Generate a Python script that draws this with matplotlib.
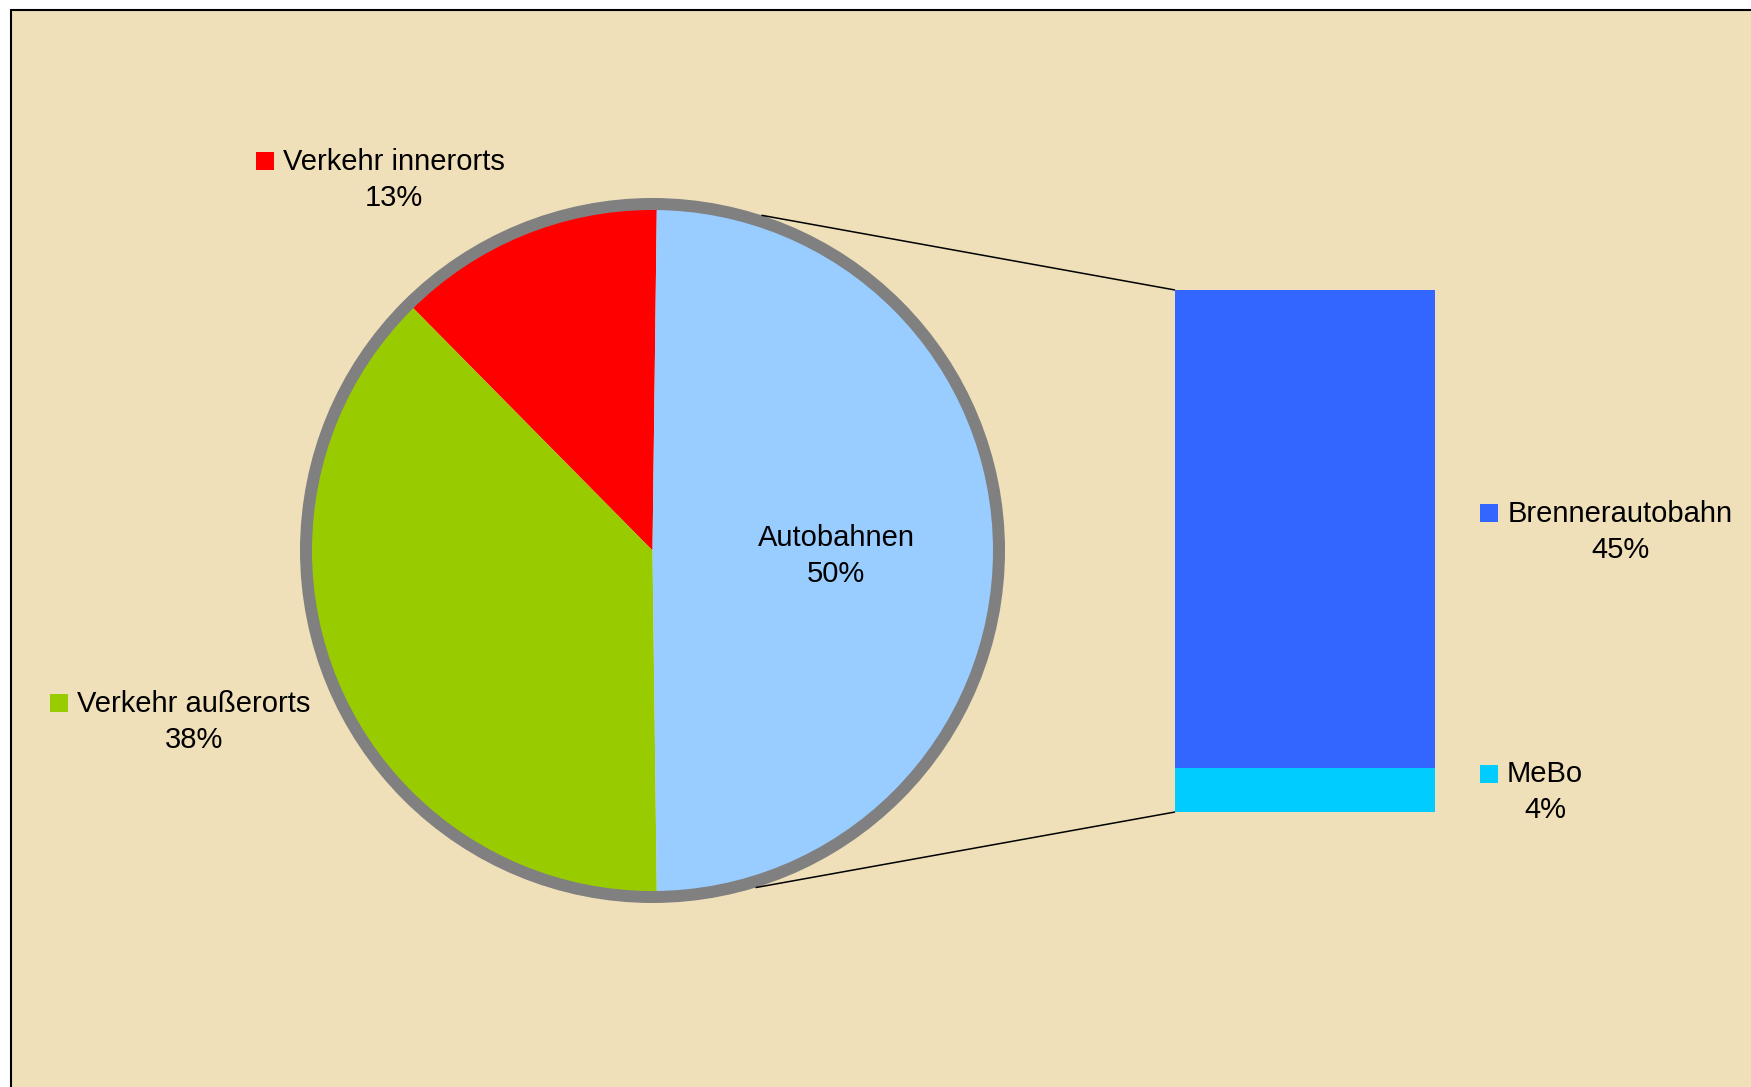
import numpy as np
import matplotlib
matplotlib.use("Agg")
import matplotlib.pyplot as plt
from matplotlib.patches import Rectangle, Circle

# ---- data ----
pie_labels = ["Verkehr innerorts", "Verkehr außerorts", "Autobahnen"]
pie_values = [12.6, 37.8]          # innerorts, außerorts (Autobahnen = sum of bar parts)
bar_labels = ["MeBo", "Brennerautobahn"]
bar_values = [4.2, 45.4]           # MeBo (bottom), Brennerautobahn (top)

pie_colors = ["#FF0000", "#99CC00", "#99CCFF"]
bar_colors = ["#00CCFF", "#3366FF"]

W, H = 1751, 1087
plt.rcParams['font.family'] = ['Liberation Sans', 'DejaVu Sans']
FS = 21

fig = plt.figure(figsize=(W / 100, H / 100), dpi=100)
fig.patch.set_facecolor("white")
ax = fig.add_axes([0, 0, 1, 1])

autobahn = sum(bar_values)
values = pie_values + [autobahn]
total = sum(values)
ab_span = 360.0 * autobahn / total

cx, cy = 652.5, H - 550.5
R = 346.5

# background panel with border on left/top
ax.add_patch(Rectangle((10.5, -20), W + 20, H - 9.5 + 20, facecolor="#EFE0BA",
                       edgecolor="black", linewidth=1.5, zorder=0))

wedges, _ = ax.pie(values, colors=pie_colors, startangle=ab_span / 2, counterclock=True,
                   center=(cx, cy), radius=R, frame=True,
                   wedgeprops=dict(linewidth=0, edgecolor="none"))
for w in wedges:
    w.set_zorder(2)
ax.add_patch(Circle((cx, cy), R, facecolor="none", edgecolor="#808080",
                    linewidth=12 * 0.72, zorder=3))

ax.set_xlim(0, W)
ax.set_ylim(0, H)
ax.set_aspect("auto")
ax.axis("off")

# bar of pie
bl, bt, bb, bw = 1175, 290, 812, 260
bax = fig.add_axes([bl / W, (H - bb) / H, bw / W, (bb - bt) / H])
bottom = 0
for v, c in zip(bar_values, bar_colors):
    bax.bar(0, v, bottom=bottom, width=1.0, color=c, linewidth=0)
    bottom += v
bax.set_xlim(-0.5, 0.5)
bax.set_ylim(0, autobahn)
bax.axis("off")

# connector lines
fig.canvas.draw()
inv = ax.transData.inverted()
top_corner = inv.transform(bax.transData.transform((-0.5, autobahn)))
bot_corner = inv.transform(bax.transData.transform((-0.5, 0)))
Ro = R + 6
for ang, end in [(72, top_corner), (-73, bot_corner)]:
    a = np.deg2rad(ang)
    ax.plot([cx + Ro * np.cos(a), end[0]], [cy + Ro * np.sin(a), end[1]],
            color="black", linewidth=1.1, zorder=3, solid_capstyle="butt")

renderer = fig.canvas.get_renderer()
DY = 3.5

def label(x, y1, y2, name, pct, color=None):
    y1 += DY
    y2 += DY
    t = ax.text(x, H - y1, name, ha="center", va="center", fontsize=FS, color="black", zorder=5)
    ax.text(x, H - y2, pct, ha="center", va="center", fontsize=FS, color="black", zorder=5)
    if color is not None:
        bb_ = t.get_window_extent(renderer=renderer)
        b = inv.transform(bb_)
        x0 = b[0][0]
        s = 18
        ax.add_patch(Rectangle((x0 - 9 - s, H - y1 - s / 2 + 1), s, s,
                               facecolor=color, edgecolor="none", zorder=5))

pct = [f"{round(100 * v / total)}%" for v in values]
label(394, 158, 195, pie_labels[0], pct[0], pie_colors[0])
label(194, 700, 736, pie_labels[1], pct[1], pie_colors[1])
label(836, 534, 571, pie_labels[2], pct[2])

bpct = [f"{round(100 * v / total)}%" for v in bar_values]
label(1620, 510, 546, bar_labels[1], bpct[1], bar_colors[1])
label(1545, 771, 807, bar_labels[0], bpct[0], bar_colors[0])

fig.savefig("out.png", dpi=100, facecolor=fig.get_facecolor())
